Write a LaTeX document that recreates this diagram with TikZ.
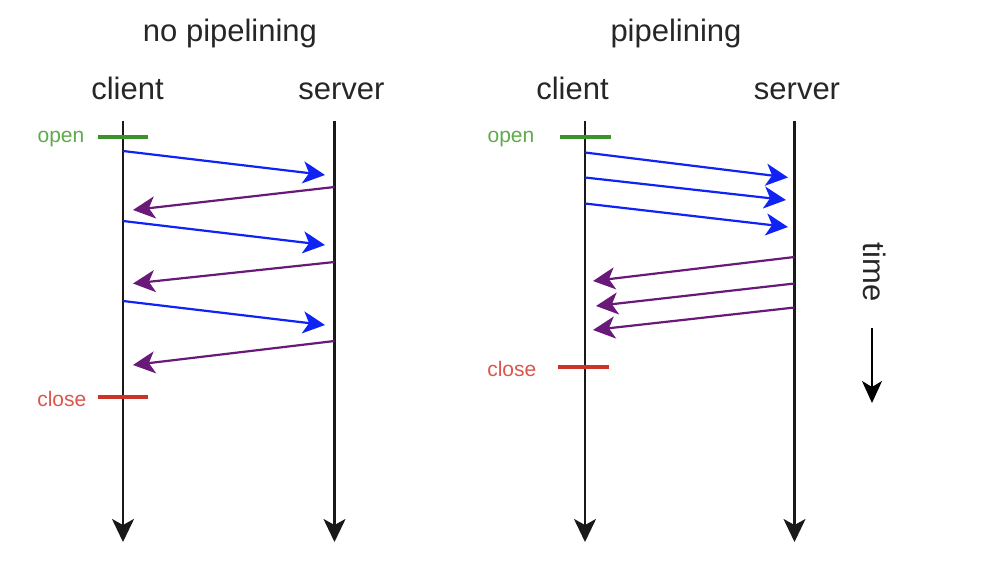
\documentclass[tikz,border=0pt]{standalone}
\usepackage{fontspec}
\setmainfont{Liberation Sans}
\usetikzlibrary{arrows.meta}
\definecolor{reqblue}{RGB}{15,35,245}
\definecolor{resppurple}{RGB}{105,25,120}
\definecolor{opengreen}{RGB}{60,145,40}
\definecolor{opentext}{RGB}{95,170,75}
\definecolor{closered}{RGB}{205,50,40}
\definecolor{closetext}{RGB}{220,85,75}
\definecolor{lifegray}{RGB}{25,25,25}
\begin{document}
\begin{tikzpicture}[x=1pt,y=-1pt,
  titletext/.style={font=\fontsize{31}{31}\selectfont, anchor=base, inner sep=0pt, text=black!85},
  partytext/.style={font=\fontsize{31}{31}\selectfont, anchor=base, inner sep=0pt, text=black!85},
  lifeline/.style={draw=lifegray, line width=2.3pt, -{Stealth[length=23pt,width=22pt,inset=6pt]}},
  req/.style={draw=reqblue, line width=2.2pt, -{Stealth[length=22pt,width=22pt,inset=6pt]}},
  resp/.style={draw=resppurple, line width=2.2pt, -{Stealth[length=22pt,width=22pt,inset=6pt]}},
  openbar/.style={draw=opengreen, line width=4pt},
  closebar/.style={draw=closered, line width=4pt},
  opentxt/.style={font=\fontsize{21}{21}\selectfont, anchor=base east, inner sep=0pt, text=opentext},
  closetxt/.style={font=\fontsize{21}{21}\selectfont, anchor=base east, inner sep=0pt, text=closetext},
  timearrow/.style={draw=black, line width=2pt, -{Stealth[length=22pt,width=20pt,inset=6pt]}}
]
\path[use as bounding box] (0,0) rectangle (1004,580);

% ---------- left: no pipelining ----------
\node[titletext] (t1) at (230,42) {no pipelining};
\node[partytext] (c1) at (127.5,100) {client};
\node[partytext] (s1) at (341.5,100) {server};
\coordinate (c1top) at (123,121);
\coordinate (c1bot) at (123,542);
\coordinate (s1top) at (334.5,121);
\coordinate (s1bot) at (334.5,542);
\draw[lifeline] (c1top) -- (c1bot);
\draw[lifeline] (s1top) -- (s1bot);

\coordinate (o1a) at (98,137); \coordinate (o1b) at (148,137);
\draw[openbar] (o1a) -- (o1b);
\node[opentxt] (open1) at (84.5,143) {open};
\coordinate (x1a) at (98,397); \coordinate (x1b) at (148,397);
\draw[closebar] (x1a) -- (x1b);
\node[closetxt] (close1) at (86.5,406) {close};

\coordinate (a1s) at (123,151);   \coordinate (a1e) at (325,175);
\coordinate (b1s) at (334.5,187); \coordinate (b1e) at (133,210);
\coordinate (a2s) at (123,221);   \coordinate (a2e) at (325,245);
\coordinate (b2s) at (334.5,262); \coordinate (b2e) at (133,283.5);
\coordinate (a3s) at (123,301);   \coordinate (a3e) at (325,325);
\coordinate (b3s) at (334.5,341); \coordinate (b3e) at (133,365);
\draw[req]  (a1s) -- (a1e);
\draw[resp] (b1s) -- (b1e);
\draw[req]  (a2s) -- (a2e);
\draw[resp] (b2s) -- (b2e);
\draw[req]  (a3s) -- (a3e);
\draw[resp] (b3s) -- (b3e);

% ---------- right: pipelining ----------
\node[titletext] (t2) at (676,42) {pipelining};
\node[partytext] (c2) at (572.5,100) {client};
\node[partytext] (s2) at (797,100) {server};
\coordinate (c2top) at (585,121);
\coordinate (c2bot) at (585,542);
\coordinate (s2top) at (794.5,121);
\coordinate (s2bot) at (794.5,542);
\draw[lifeline] (c2top) -- (c2bot);
\draw[lifeline] (s2top) -- (s2bot);

\coordinate (o2a) at (560,137); \coordinate (o2b) at (611,137);
\draw[openbar] (o2a) -- (o2b);
\node[opentxt] (open2) at (534.5,143) {open};
\coordinate (x2a) at (558,367); \coordinate (x2b) at (609,367);
\draw[closebar] (x2a) -- (x2b);
\node[closetxt] (close2) at (536.5,376) {close};

\coordinate (p1s) at (585,152.5);   \coordinate (p1e) at (788,177.5);
\coordinate (p2s) at (585,177.5);   \coordinate (p2e) at (786,200);
\coordinate (p3s) at (585,203.5);   \coordinate (p3e) at (788,227);
\coordinate (q1s) at (794.5,257);   \coordinate (q1e) at (593,281);
\coordinate (q2s) at (794.5,283.5); \coordinate (q2e) at (596,306);
\coordinate (q3s) at (794.5,307.5); \coordinate (q3e) at (593,330);
\draw[req]  (p1s) -- (p1e);
\draw[req]  (p2s) -- (p2e);
\draw[req]  (p3s) -- (p3e);
\draw[resp] (q1s) -- (q1e);
\draw[resp] (q2s) -- (q2e);
\draw[resp] (q3s) -- (q3e);

% ---------- time ----------
\node[font=\fontsize{31}{31}\selectfont, inner sep=0pt, rotate=-90, text=black!85] (timelbl) at (875,272) {time};
\coordinate (tmtop) at (872,328);
\coordinate (tmbot) at (872,403);
\draw[timearrow] (tmtop) -- (tmbot);
\end{tikzpicture}
\end{document}
